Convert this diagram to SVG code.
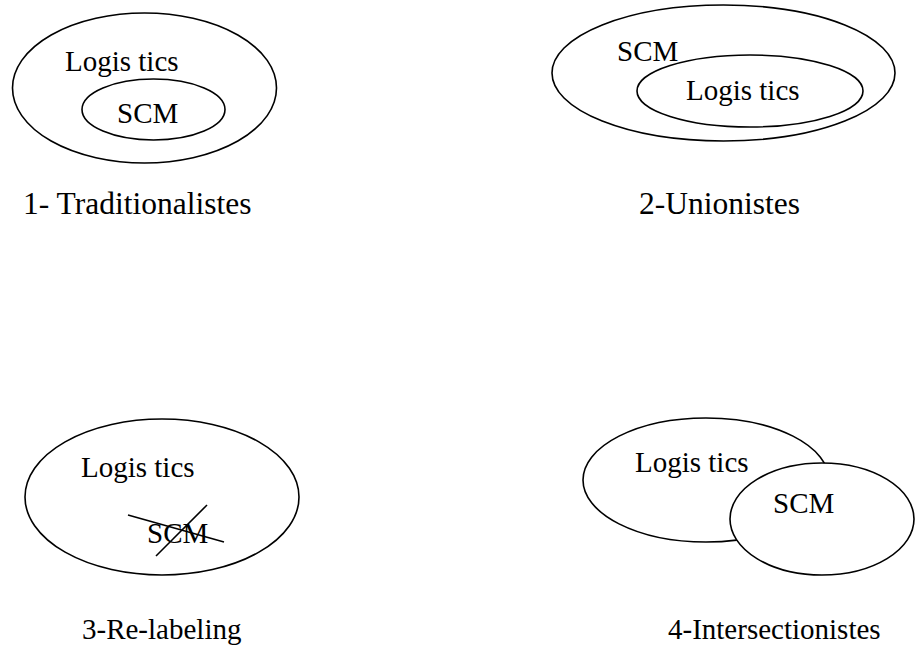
<svg xmlns="http://www.w3.org/2000/svg" width="915" height="653" viewBox="0 0 915 653">
  <style>
    .shape { fill: #ffffff; stroke: #000000; stroke-width: 1.6; }
    .cross { stroke: #000000; stroke-width: 1.6; }
  </style>
  <rect width="915" height="653" fill="#ffffff"/>

  <g font-family="Liberation Serif" font-size="29" fill="#000000">
    <!-- 1: Logistics contains SCM -->
    <g id="traditionalistes">
      <ellipse class="shape" cx="144.5" cy="88" rx="132" ry="75"/>
      <text x="65" y="71">Logis tics</text>
      <ellipse class="shape" cx="153.5" cy="109.5" rx="71.5" ry="30.5"/>
      <text x="117" y="123">SCM</text>
      <text x="23" y="214" font-size="31.5">1- Traditionalistes</text>
    </g>

    <!-- 2: SCM contains Logistics -->
    <g id="unionistes">
      <ellipse class="shape" cx="723.5" cy="73" rx="171.5" ry="68"/>
      <ellipse class="shape" cx="750" cy="91" rx="113" ry="36"/>
      <text x="617" y="61">SCM</text>
      <text x="686" y="100">Logis tics</text>
      <text x="639" y="214" font-size="31.5">2-Unionistes</text>
    </g>

    <!-- 3: SCM is only a new name for Logistics -->
    <g id="re-labeling">
      <ellipse class="shape" cx="162" cy="497" rx="137" ry="78"/>
      <text x="81" y="477">Logis tics</text>
      <text x="147" y="543">SCM</text>
      <line class="cross" x1="128" y1="515" x2="224" y2="542"/>
      <line class="cross" x1="207" y1="505" x2="156" y2="556"/>
      <text x="82" y="639">3-Re-labeling</text>
    </g>

    <!-- 4: Logistics and SCM overlap -->
    <g id="intersectionistes">
      <ellipse class="shape" cx="706" cy="480" rx="123" ry="62"/>
      <text x="635" y="472">Logis tics</text>
      <ellipse class="shape" cx="822" cy="519" rx="92" ry="56"/>
      <text x="773" y="513">SCM</text>
      <text x="668" y="639">4-Intersectionistes</text>
    </g>
  </g>

  <g id="connectors"/>
</svg>
